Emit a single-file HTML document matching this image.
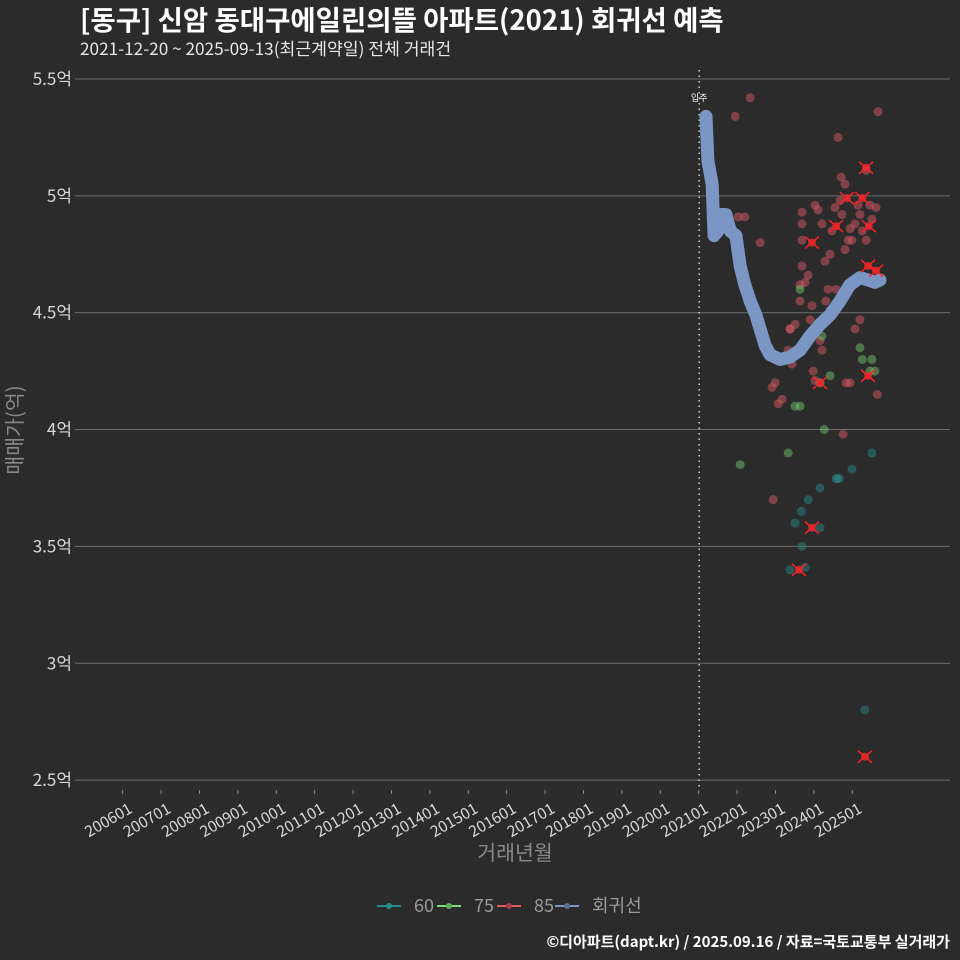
<!DOCTYPE html>
<html><head><meta charset="utf-8">
<style>
html,body{margin:0;padding:0;background:#2b2b2c;}
svg{display:block;font-family:"Noto Sans CJK KR","Liberation Sans",sans-serif;}
</style></head>
<body>
<svg id="chart" width="960" height="960" viewBox="0 0 960 960" xmlns="http://www.w3.org/2000/svg">
<rect width="960" height="960" fill="#2b2b2c"/>
<text x="80" y="30" fill="#ffffff" font-size="27.5" font-weight="bold">[동구] 신암 동대구에일린의뜰 아파트(2021) 회귀선 예측</text>
<text x="80" y="55" fill="#e8e8e8" font-size="17.2">2021-12-20 ~ 2025-09-13(최근계약일) 전체 거래건</text>
<g id="grid"></g>
<g id="yaxis"></g>
<g id="xaxis"></g>
<g id="marks"></g>
<text transform="translate(22,430) rotate(-90)" text-anchor="middle" fill="#8a8a8a" font-size="20.5">매매가(억)</text>
<text x="515" y="860" text-anchor="middle" fill="#8a8a8a" font-size="20.5">거래년월</text>
<g font-size="18" fill="#9a9a9a">
 <g><line x1="377" y1="906" x2="401" y2="906" stroke="#2a8a8a" stroke-width="2"/><circle cx="389" cy="906" r="3" fill="#2a8a8a"/><text x="414" y="912">60</text></g>
 <g><line x1="437" y1="906" x2="461" y2="906" stroke="#7fd87a" stroke-width="2"/><circle cx="449" cy="906" r="3" fill="#5fae5a"/><text x="474" y="912">75</text></g>
 <g><line x1="497" y1="906" x2="521" y2="906" stroke="#e35a5f" stroke-width="2"/><circle cx="509" cy="906" r="3" fill="#a04050"/><text x="534" y="912">85</text></g>
 <g><line x1="555" y1="906" x2="579" y2="906" stroke="#7b96c4" stroke-width="2"/><circle cx="567" cy="906" r="3" fill="#5a6f9a"/><text x="592" y="912">회귀선</text></g>
</g>
<text x="950" y="947" text-anchor="end" fill="#ffffff" font-size="15" font-weight="bold">©디아파트(dapt.kr) / 2025.09.16 / 자료=국토교통부 실거래가</text>
</svg>
<script>
const yTicks=[2.5,3,3.5,4,4.5,5,5.5];
const xTickYears=[2006,2007,2008,2009,2010,2011,2012,2013,2014,2015,2016,2017,2018,2019,2020,2021,2022,2023,2024,2025];
const xTickLabels=["200601","200701","200801","200901","201001","201101","201201","201301","201401","201501","201601","201701","201801","201901","202001","202101","202201","202301","202401","202501"];
const moveInYear=2021.0;
// regression line
const regYears=[2021.19,2021.24,2021.35,2021.40,2021.50,2021.55,2021.71,2021.82,2021.97,2022.08,2022.20,2022.34,2022.49,2022.60,2022.73,2022.86,2022.99,2023.12,2023.38,2023.64,2023.90,2024.16,2024.42,2024.68,2024.94,2025.20,2025.41,2025.59,2025.72];
const regValues=[5.34,5.15,5.05,4.83,4.85,4.92,4.92,4.85,4.83,4.70,4.62,4.55,4.49,4.43,4.36,4.32,4.31,4.30,4.31,4.34,4.40,4.45,4.49,4.55,4.62,4.65,4.64,4.63,4.64];
// 85 area trades
const years85=[2021.95,2022.34,2022.03,2022.20,2022.03,2022.60,2022.99,2022.91,2023.07,2023.17,2023.38,2023.33,2023.43,2023.51,2023.64,2023.64,2023.69,2023.69,2023.69,2023.69,2023.77,2023.85,2023.90,2023.95,2024.03,2024.11,2024.21,2024.29,2024.37,2024.31,2024.47,2024.42,2024.55,2024.58,2024.68,2024.73,2024.81,2024.63,2024.71,2024.81,2024.89,2024.94,2024.99,2025.07,2025.15,2025.20,2025.26,2025.36,2025.46,2025.51,2025.62,2025.67,2025.65,2024.76,2024.84,2024.94,2025.20,2025.07,2024.21,2024.03,2023.98,2022.94,2024.42,2025.36,2023.90,2024.16,2023.38];
const values85=[5.34,5.42,4.91,4.91,4.77,4.80,4.20,4.18,4.11,4.13,4.43,4.34,4.28,4.45,4.55,4.62,4.70,4.81,4.88,4.93,4.63,4.66,4.47,4.53,4.96,4.94,4.88,4.72,4.60,4.55,4.85,4.75,4.95,4.60,4.98,4.92,5.05,5.25,5.08,4.77,4.81,4.86,4.81,4.88,4.96,4.92,4.85,4.81,4.96,4.90,4.95,5.36,4.15,3.98,4.20,4.20,4.47,4.43,4.34,4.21,4.25,3.70,4.51,5.11,4.39,4.38,4.43];
// 75 area trades
const years75=[2024.16,2023.51,2023.64,2024.21,2024.42,2025.20,2025.26,2025.46,2025.59,2025.51,2023.64,2022.08,2024.27,2023.33];
const values75=[4.20,4.10,4.10,4.40,4.23,4.35,4.30,4.25,4.25,4.30,4.60,3.85,4.00,3.90];
// 60 area trades
const years60=[2024.61,2025.51,2024.99,2024.58,2024.66,2024.16,2023.85,2023.67,2023.69,2023.77,2023.38,2024.16,2025.33,2023.51];
const values60=[3.79,3.90,3.83,3.79,3.79,3.75,3.70,3.65,3.50,3.41,3.40,3.58,2.80,3.60];
// recent highlighted trades (x markers)
const recentYears=[2025.36,2024.86,2025.26,2024.58,2025.43,2023.95,2025.41,2025.62,2025.41,2024.16,2023.95,2023.61,2025.33];
const recentValues=[5.12,4.99,4.99,4.87,4.87,4.80,4.70,4.68,4.23,4.20,3.58,3.40,2.60];

const NS="http://www.w3.org/2000/svg";
const X0=122.7, XS=38.4, Y0=79, YS=233.7;
function xScale(t){return X0+(t-2006)*XS;}
function yScale(v){return Y0+(5.5-v)*YS;}
function mk(tag,attrs,parent){const e=document.createElementNS(NS,tag);for(const k in attrs)e.setAttribute(k,attrs[k]);parent.appendChild(e);return e;}
const grid=document.getElementById('grid'),yax=document.getElementById('yaxis'),xax=document.getElementById('xaxis'),marks=document.getElementById('marks');
yTicks.forEach(v=>{
 const y=yScale(v);
 const l=mk('line',{x1:78,x2:950,y1:y,y2:y,stroke:'#6e6e6e','stroke-width':1},grid);
 
 
 mk('line',{x1:75,x2:78,y1:y,y2:y,stroke:'#6e6e6e'},yax);
 const t=mk('text',{x:72,y:y+6,'text-anchor':'end',fill:'#d8d8d8','font-size':17},yax);
 t.textContent=(v%1===0?v.toFixed(0):v)+'억';
 
 
});
xTickYears.forEach((yr,i)=>{
 const x=xScale(yr);
 mk('line',{x1:x,x2:x,y1:790,y2:794,stroke:'#8a8a8a'},xax);
 const t=mk('text',{transform:`translate(${x+4},${800}) rotate(-30)`,'text-anchor':'end',fill:'#d8d8d8','font-size':15.5,'dominant-baseline':'hanging'},xax);
 t.textContent=xTickLabels[i];
 
 
});
// move-in line
const mx=xScale(moveInYear)+0.5;
const ml=mk('line',{x1:mx,x2:mx,y1:70,y2:790,stroke:'#cfcfcf','stroke-width':1.5,'stroke-dasharray':'1.5,4'},marks);


const mt=mk('text',{x:mx,y:101,'text-anchor':'middle',fill:'#ffffff','font-size':9},marks);
mt.textContent='입주';


function dots(ys,vs,fill,name){
 ys.forEach((t,i)=>{
  const c=mk('circle',{cx:xScale(t),cy:yScale(vs[i]),r:4.5,fill:fill,'fill-opacity':0.5},marks);
  
  
 });
}
dots(years85,values85,'#d65a62','point-85');
dots(years75,values75,'#6fbf68','point-75');
dots(years60,values60,'#2a8585','point-60');
// regression
const pts=regYears.map((t,i)=>xScale(t)+','+yScale(regValues[i])).join(' ');
const pl=mk('polyline',{points:pts,fill:'none',stroke:'#7b96c4','stroke-width':13,'stroke-linecap':'round','stroke-linejoin':'round'},marks);


recentYears.forEach((t,i)=>{
 const x=xScale(t),y=yScale(recentValues[i]);
 const g=mk('g',{},marks);
 
 
 mk('circle',{cx:x,cy:y,r:4,fill:'#e0303a','fill-opacity':0.8},g);
 mk('path',{d:`M${x-7},${y-6}L${x+7},${y+6}M${x-7},${y+6}L${x+7},${y-6}`,stroke:'#ff2020','stroke-width':1.5},g);
});
</script>
</body></html>
